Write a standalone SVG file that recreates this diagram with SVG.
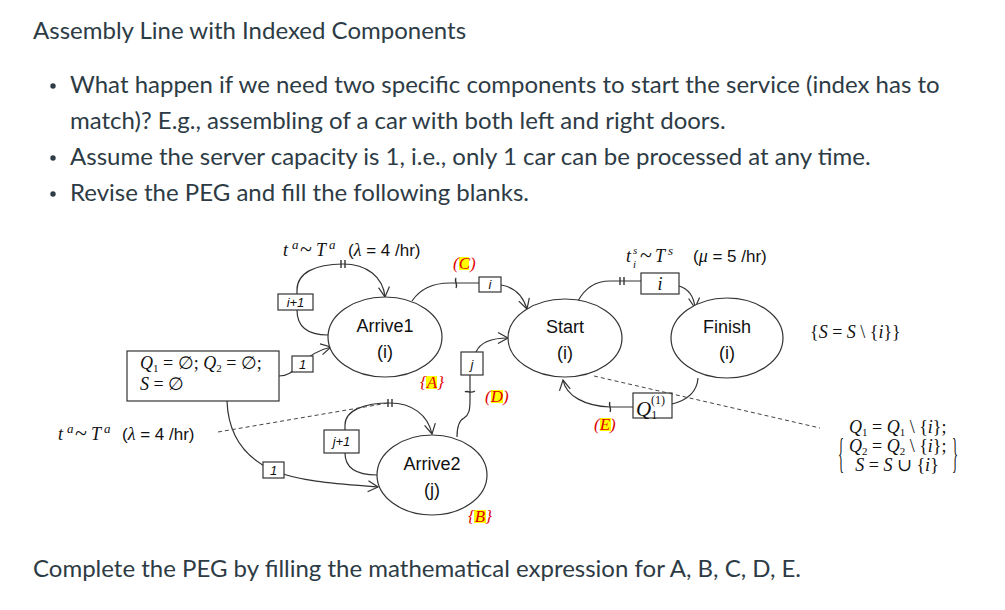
<svg xmlns="http://www.w3.org/2000/svg" width="1005" height="610" viewBox="0 0 1005 610">
<style>
.body{font-family:Lato,"Noto Sans",sans-serif;fill:#2d3b45;font-size:24px}
.node ellipse{fill:#fff;stroke:#333;stroke-width:1.2}
.lbl{font-family:"Liberation Sans",Arial,sans-serif;font-size:18px;fill:#111;text-anchor:middle}
.box{fill:#fff;stroke:#333;stroke-width:1.2}
.bt{font-family:"Liberation Sans",Arial,sans-serif;font-style:italic;font-size:13px;text-anchor:middle;fill:#111}
.edge{fill:none;stroke:#333;stroke-width:1.2}
.mark{fill:none;stroke:#333;stroke-width:1.4}
.dash{fill:none;stroke:#444;stroke-width:1;stroke-dasharray:4 3}
.m{font-family:"Liberation Serif","DejaVu Serif",serif;font-size:18px;fill:#111}
.it{font-style:italic}
.sup{font-style:italic;font-size:13px}
.s{font-family:"Liberation Sans",Arial,sans-serif;font-size:17px;font-style:normal}
.red{font-family:"Liberation Serif","DejaVu Serif",serif;font-style:italic;font-size:17px;fill:#e00000}
.hl{fill:#ffff00}
</style>
<defs>
<marker id="arr" markerWidth="14" markerHeight="14" refX="11" refY="6" orient="auto" markerUnits="userSpaceOnUse">
<path d="M1,0.5 L11,6 L1,11.5" fill="none" stroke="#333" stroke-width="1.2"/>
</marker>
</defs>
<rect width="1005" height="610" fill="#fff"/>

<g id="text-block">
<text class="body" x="33" y="39">Assembly Line with Indexed Components</text>
<circle cx="53" cy="86" r="2.7" fill="#2d3b45"/>
<circle cx="53" cy="158" r="2.7" fill="#2d3b45"/>
<circle cx="53" cy="194" r="2.7" fill="#2d3b45"/>
<text class="body" x="70" y="93">What happen if we need two specific components to start the service (index has to</text>
<text class="body" x="70" y="129">match)? E.g., assembling of a car with both left and right doors.</text>
<text class="body" x="70" y="165">Assume the server capacity is 1, i.e., only 1 car can be processed at any time.</text>
<text class="body" x="70" y="201">Revise the PEG and fill the following blanks.</text>
<text class="body" x="33" y="577">Complete the PEG by filling the mathematical expression for A, B, C, D, E.</text>
</g>

<g id="connectors">
<!-- Arrive1 self loop -->
<path class="edge" d="M328,335 C306,335 297,325 297,310 L297,290 C297,273 315,264 343,264 C367,264 383,277 385,297" marker-end="url(#arr)"/>
<path class="mark" d="M341,260 V268 M345,260 V268"/>
<rect class="box" x="278" y="294" width="35" height="16"/>
<text class="bt" x="295.5" y="307">i+1</text>
<!-- Init -> Arrive1 -->
<path class="edge" d="M279,376 C288,376 292,372 298,366 C308,356 318,350 331,347" marker-end="url(#arr)"/>
<rect class="box" x="292" y="356" width="21" height="16"/>
<text class="bt" x="302.5" y="369">1</text>
<!-- Init -> Arrive2 -->
<path class="edge" d="M227,401 C228,430 240,455 272,470 C300,482 340,484 378,487" marker-end="url(#arr)"/>
<rect class="box" x="263" y="462" width="21" height="16"/>
<text class="bt" x="273.5" y="475">1</text>
<!-- Arrive2 self loop -->
<path class="edge" d="M377,475 C352,475 345,465 345,453 L345,425 C345,410 365,403 390,403 C412,403 428,415 432,434" marker-end="url(#arr)"/>
<path class="mark" d="M388,399 V407 M392,399 V407"/>
<rect class="box" x="324" y="430" width="35" height="23"/>
<text class="bt" x="341.5" y="446">j+1</text>
<!-- Arrive1 -> Start (C) -->
<path class="edge" d="M412,301 C420,289 432,283 450,283 L480,283 M501,285 C514,287 523,296 527,309" marker-end="url(#arr)"/>
<path class="mark" d="M456,278 C454,281 458,284 456,288"/>
<rect class="box" x="479" y="277" width="22" height="15"/>
<text class="bt" x="490" y="289">i</text>
<!-- Arrive2 -> Start (D) -->
<path class="edge" d="M457,437 C457,425 460,420 464,418 C469,415 470,410 470,400 L470,375 M476,352 C480,343 490,338 508,338" marker-end="url(#arr)"/>
<path class="mark" d="M465,392 C467,390 470,394 475,391"/>
<rect class="box" x="461" y="352" width="22" height="23"/>
<text class="bt" x="472" y="369">j</text>
<!-- Start -> Finish -->
<path class="edge" d="M578,301 C585,288 595,281 610,281 L641,281 M679,286 C689,289 694,297 695,308" marker-end="url(#arr)"/>
<path class="mark" d="M620,277 V285 M624,277 V285"/>
<rect class="box" x="641" y="273" width="38" height="21"/>
<text class="m it" x="660" y="290" text-anchor="middle" font-size="18">i</text>
<!-- Finish -> Start (E) -->
<path class="edge" d="M698,378 C697,392 688,400 672,404 M633,407 L610,407 C585,406 566,396 563,380" marker-end="url(#arr)"/>
<path class="mark" d="M610,402 C608,405 612,408 610,412"/>
<rect class="box" x="633" y="393" width="39" height="25"/>
<text class="m" y="416"><tspan x="636" class="it" font-size="21">Q</tspan><tspan font-size="12" dy="3">1</tspan><tspan x="651" dy="-15" font-size="12">(1)</tspan></text>
<!-- dashed -->
<path class="dash" d="M594,376 L820,428"/>
<path class="dash" d="M218,432 L388,403"/>
</g>

<g id="labels">
<rect class="hl" x="459" y="257" width="10" height="13"/>
<text class="red" x="453" y="269">(C)</text>
<rect class="hl" x="426" y="376" width="11" height="13"/>
<text class="red" x="420" y="388">{A}</text>
<rect class="hl" x="491" y="390" width="12" height="13"/>
<text class="red" x="485" y="402">(D)</text>
<rect class="hl" x="474" y="510" width="12" height="13"/>
<text class="red" x="468" y="522">{B}</text>
<rect class="hl" x="600" y="418" width="11" height="13"/>
<text class="red" x="594" y="430">(E)</text>

<text class="m" y="256"><tspan x="283" class="it">t</tspan><tspan x="292" class="sup" dy="-7">a</tspan><tspan x="300" dy="7" font-size="22">~</tspan><tspan x="316" class="it">T</tspan><tspan x="329" class="sup" dy="-7">a</tspan><tspan x="348" dy="7" class="s">(</tspan><tspan class="it">λ</tspan><tspan class="s"> = 4 /hr)</tspan></text>
<text class="m" y="440"><tspan x="58" class="it">t</tspan><tspan x="67" class="sup" dy="-7">a</tspan><tspan x="75" dy="7" font-size="22">~</tspan><tspan x="91" class="it">T</tspan><tspan x="104" class="sup" dy="-7">a</tspan><tspan x="122" dy="7" class="s">(</tspan><tspan class="it">λ</tspan><tspan class="s"> = 4 /hr)</tspan></text>
<text class="m" y="262"><tspan x="626" class="it">t</tspan><tspan x="633" dy="-8" class="it" font-size="11">s</tspan><tspan x="633" dy="14" class="it" font-size="11">i</tspan><tspan x="640" dy="-6" font-size="22">~</tspan><tspan x="655" class="it">T</tspan><tspan x="668" class="sup" dy="-7">s</tspan><tspan x="693" dy="7" class="s">(</tspan><tspan class="it">μ</tspan><tspan class="s"> = 5 /hr)</tspan></text>

<text class="m" font-size="20" x="810" y="338">{<tspan class="it">S</tspan> = <tspan class="it">S</tspan> \ {<tspan class="it">i</tspan>}}</text>

<text class="m" font-size="24" transform="translate(838,448) scale(0.7,2.4)" x="0" y="8">{</text>
<text class="m" font-size="24" transform="translate(952,448) scale(0.7,2.4)" x="0" y="8">}</text>
<text class="m" font-size="16" y="433"><tspan x="849" class="it">Q</tspan><tspan font-size="11" dy="3">1</tspan><tspan dy="-3"> = </tspan><tspan class="it">Q</tspan><tspan font-size="11" dy="3">1</tspan><tspan dy="-3"> \ {</tspan><tspan class="it">i</tspan><tspan>};</tspan></text>
<text class="m" font-size="16" y="452"><tspan x="849" class="it">Q</tspan><tspan font-size="11" dy="3">2</tspan><tspan dy="-3"> = </tspan><tspan class="it">Q</tspan><tspan font-size="11" dy="3">2</tspan><tspan dy="-3"> \ {</tspan><tspan class="it">i</tspan><tspan>};</tspan></text>
<text class="m" font-size="16" y="471" x="897" text-anchor="middle"><tspan class="it">S</tspan> = <tspan class="it">S</tspan> ∪ {<tspan class="it">i</tspan>}</text>
</g>

<g id="init" class="node">
<rect class="box" x="127" y="351" width="152" height="50"/>
<text class="m" font-size="16" y="369"><tspan x="140" class="it">Q</tspan><tspan font-size="11" dy="3">1</tspan><tspan dy="-3"> = ∅; </tspan><tspan class="it">Q</tspan><tspan font-size="11" dy="3">2</tspan><tspan dy="-3"> = ∅;</tspan></text>
<text class="m" font-size="16" x="140" y="390"><tspan class="it">S</tspan> = ∅</text>
</g>

<g id="arrive1" class="node">
<ellipse cx="385" cy="337" rx="57" ry="40"/>
<text class="lbl" x="385" y="332">Arrive1</text>
<text class="lbl" x="385" y="358">(i)</text>
</g>
<g id="start" class="node">
<ellipse cx="565" cy="338" rx="57" ry="39"/>
<text class="lbl" x="565" y="333">Start</text>
<text class="lbl" x="565" y="359">(i)</text>
</g>
<g id="finish" class="node">
<ellipse cx="727" cy="338" rx="56" ry="40"/>
<text class="lbl" x="727" y="333">Finish</text>
<text class="lbl" x="727" y="359">(i)</text>
</g>
<g id="arrive2" class="node">
<ellipse cx="432" cy="475" rx="55" ry="40"/>
<text class="lbl" x="432" y="470">Arrive2</text>
<text class="lbl" x="432" y="496">(j)</text>
</g>
</svg>
